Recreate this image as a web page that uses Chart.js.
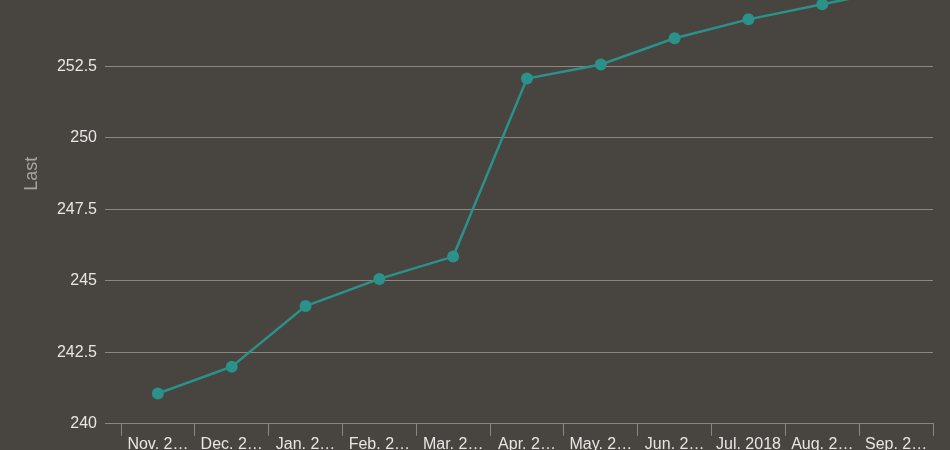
<!DOCTYPE html>
<html>
<head>
<meta charset="utf-8">
<script src="https://cdn.jsdelivr.net/npm/chart.js@4.4.0/dist/chart.umd.min.js"></script>
<style>
  html, body { margin: 0; padding: 0; background: #48443f; overflow: hidden; width: 950px; height: 450px; }
  #wrap { position: absolute; left: 0; top: -94px; width: 950px; height: 547px; }
</style>
</head>
<body>
<div id="wrap"><canvas id="c"></canvas></div>
<script>
const categories = ["Nov. 2017", "Dec. 2017", "Jan. 2018", "Feb. 2018", "Mar. 2018", "Apr. 2018", "May. 2018", "Jun. 2018", "Jul. 2018", "Aug. 2018", "Sep. 2018"];
const lastValues = [241.06, 242.0, 244.12, 245.07, 245.85, 252.08, 252.57, 253.49, 254.15, 254.68, 255.2];
const yTickMin = 240;
const yTickMax = 257.5;
const yTickStep = 2.5;
const yTitle = "Last";

const FONT = "'Liberation Sans', Arial, sans-serif";
const mctx = document.createElement('canvas').getContext('2d');
mctx.font = "16px " + FONT;
function fit(label, maxW) {
  if (mctx.measureText(label).width <= maxW) return label;
  let s = label;
  while (s.length > 1 && mctx.measureText(s + "…").width > maxW) s = s.slice(0, -1);
  return s + "…";
}

new Chart(document.getElementById('c'), {
  type: 'line',
  data: {
    labels: categories,
    datasets: [{
      data: lastValues,
      borderColor: '#2a918b',
      backgroundColor: '#2a918b',
      borderWidth: 2.5,
      pointRadius: 6,
      pointBackgroundColor: '#2a918b',
      pointBorderWidth: 0,
      tension: 0,
      fill: false
    }]
  },
  options: {
    responsive: true,
    maintainAspectRatio: false,
    animation: false,
    layout: { padding: { left: 0, right: 17, top: 0, bottom: 0 } },
    plugins: { legend: { display: false }, tooltip: { enabled: false } },
    scales: {
      x: {
        offset: true,
        grid: { display: true, drawOnChartArea: false, offset: true, tickLength: 12, color: '#8c8782', lineWidth: 1 },
        border: { display: true, color: '#8c8782' },
        ticks: {
          color: '#e8e6e3', font: { size: 16, family: FONT }, maxRotation: 0, minRotation: 0, autoSkip: false, padding: -1,
          callback: function(v, i) { return fit(categories[i], 65.5); }
        }
      },
      y: {
        min: yTickMin, max: yTickMax,
        afterFit: function(s) { s.width = 121; },
        grid: { color: '#8c8782', tickLength: 16, lineWidth: 1 },
        border: { display: false },
        ticks: { stepSize: yTickStep, color: '#e8e6e3', font: { size: 16, family: FONT }, padding: 8 },
        title: { display: true, text: yTitle, color: '#a8a39e', font: { size: 18, family: FONT }, padding: { top: 21, bottom: 0 } }
      }
    }
  }
});
</script>
</body>
</html>
